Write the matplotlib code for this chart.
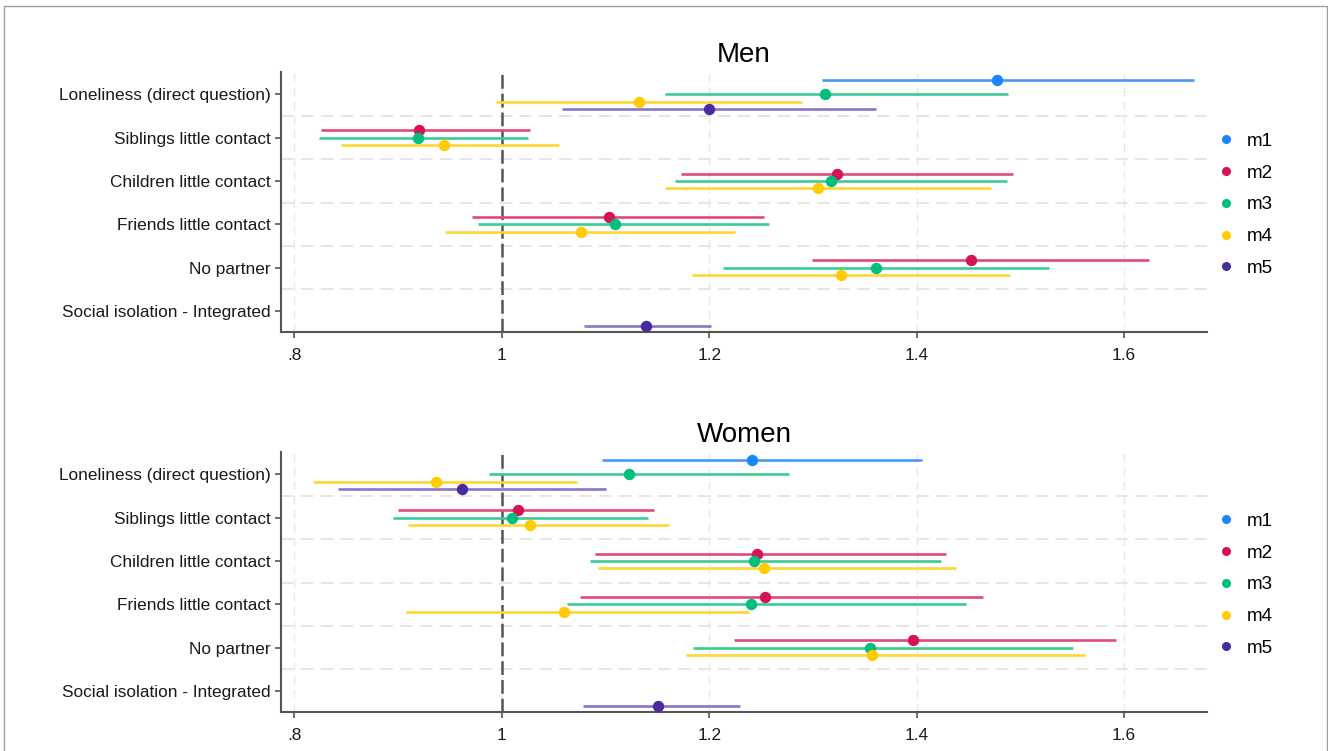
import numpy as np
import matplotlib.pyplot as plt
from matplotlib.lines import Line2D
from matplotlib.patches import Rectangle

plt.rcParams['font.family'] = ['Liberation Sans', 'DejaVu Sans']

categories = ['Loneliness (direct question)', 'Siblings little contact',
              'Children little contact', 'Friends little contact',
              'No partner', 'Social isolation - Integrated']
models = ['m1', 'm2', 'm3', 'm4', 'm5']
dot_colors = ['#1a85ff', '#d5135a', '#00bf7d', '#ffcb05', '#4b2a9e']
line_colors = ['#4a98f5', '#e0497a', '#3ccb96', '#ffd633', '#8a74cc']
xtick_vals = [0.8, 1.0, 1.2, 1.4, 1.6]
xtick_labels = ['.8', '1', '1.2', '1.4', '1.6']

nan = np.nan
# rows = m1..m5, columns = categories
men_est = [
    [1.477, nan, nan, nan, nan, nan],
    [nan, 0.920, 1.323, 1.103, 1.452, nan],
    [1.312, 0.919, 1.317, 1.109, 1.361, nan],
    [1.132, 0.944, 1.305, 1.076, 1.327, nan],
    [1.200, nan, nan, nan, nan, 1.139],
]
men_lo = [
    [1.309, nan, nan, nan, nan, nan],
    [nan, 0.826, 1.173, 0.971, 1.299, nan],
    [1.157, 0.824, 1.167, 0.977, 1.213, nan],
    [0.994, 0.845, 1.157, 0.945, 1.183, nan],
    [1.058, nan, nan, nan, nan, 1.079],
]
men_hi = [
    [1.667, nan, nan, nan, nan, nan],
    [nan, 1.027, 1.493, 1.253, 1.624, nan],
    [1.488, 1.025, 1.487, 1.258, 1.528, nan],
    [1.289, 1.055, 1.472, 1.225, 1.490, nan],
    [1.361, nan, nan, nan, nan, 1.202],
]

women_est = [
    [1.241, nan, nan, nan, nan, nan],
    [nan, 1.016, 1.246, 1.254, 1.396, nan],
    [1.123, 1.010, 1.243, 1.240, 1.355, nan],
    [0.936, 1.027, 1.253, 1.060, 1.357, nan],
    [0.962, nan, nan, nan, nan, 1.151],
]
women_lo = [
    [1.097, nan, nan, nan, nan, nan],
    [nan, 0.900, 1.090, 1.075, 1.224, nan],
    [0.988, 0.895, 1.085, 1.063, 1.184, nan],
    [0.818, 0.909, 1.093, 0.908, 1.178, nan],
    [0.842, nan, nan, nan, nan, 1.078],
]
women_hi = [
    [1.405, nan, nan, nan, nan, nan],
    [nan, 1.147, 1.428, 1.464, 1.592, nan],
    [1.277, 1.141, 1.423, 1.448, 1.551, nan],
    [1.072, 1.161, 1.438, 1.238, 1.562, nan],
    [1.100, nan, nan, nan, nan, 1.230],
]


def draw_panel(ax, est, lo, hi, title):
    base = np.arange(1, len(categories) + 1)
    # background grid
    for x in xtick_vals:
        ax.axvline(x, color='#e8e8e8', lw=1, ls=(0, (6, 4)), zorder=0)
    for y in base[:-1] + 0.5:
        ax.axhline(y, color='#e4e4e4', lw=1.3, ls=(0, (7, 4)), zorder=0)
    ax.axvline(1, color='#555555', lw=1.8, ls=(0, (5.5, 2)), zorder=1)

    for k in range(len(models)):
        e = np.array(est[k])
        l = np.array(lo[k])
        h = np.array(hi[k])
        ok = ~np.isnan(e)
        y = base + (k - 2) * 0.17
        ax.hlines(y[ok], l[ok], h[ok], color=line_colors[k], lw=1.9, zorder=2)
        ax.plot(e[ok], y[ok], 'o', color=dot_colors[k], ms=7.2, zorder=3)

    ax.set_xlim(0.787, 1.68)
    ax.set_ylim(6.485, 0.485)
    ax.set_yticks(base)
    ax.set_yticklabels(categories)
    ax.set_xticks(xtick_vals)
    ax.set_xticklabels(xtick_labels)
    for s in ['top', 'right']:
        ax.spines[s].set_visible(False)
    for s in ['left', 'bottom']:
        ax.spines[s].set_color('#555555')
        ax.spines[s].set_linewidth(1.5)
    ax.tick_params(axis='both', length=4.5, width=1.2, color='#555555',
                   labelsize=12.4, labelcolor='#1a1a1a')
    ax.tick_params(axis='y', pad=3)
    ax.tick_params(axis='x', pad=7)
    ax.set_title(title, fontsize=20, pad=7)

    handles = [Line2D([], [], marker='o', ls='', color=c, ms=5.5) for c in dot_colors]
    ax.legend(handles, models, loc='center left', bbox_to_anchor=(0.99, 0.489),
              frameon=False, fontsize=13.5, handletextpad=0.5,
              labelspacing=0.78, handlelength=1.2)


fig = plt.figure(figsize=(13.28, 7.51), dpi=100)
ax1 = fig.add_axes([0.2116, 0.5579, 0.6973, 0.3462])
ax2 = fig.add_axes([0.2116, 0.0519, 0.6973, 0.3462])
draw_panel(ax1, men_est, men_lo, men_hi, 'Men')
draw_panel(ax2, women_est, women_lo, women_hi, 'Women')

fig.patches.append(Rectangle((4 / 1328, -0.05), 1323 / 1328, 0.992 + 0.05,
                             transform=fig.transFigure, fill=False,
                             ec='#a0a0a0', lw=1))

fig.savefig('out.png', dpi=100)
